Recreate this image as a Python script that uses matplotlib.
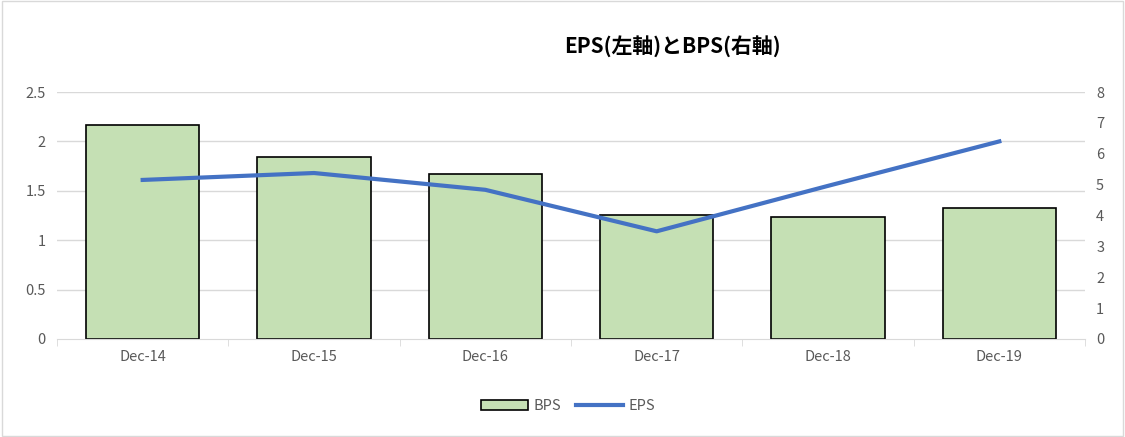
import matplotlib
matplotlib.use("Agg")
import matplotlib.pyplot as plt
from matplotlib.patches import Rectangle

categories = ["Dec-14", "Dec-15", "Dec-16", "Dec-17", "Dec-18", "Dec-19"]
bps = [6.93, 5.89, 5.34, 4.01, 3.95, 4.24]
eps = [1.61, 1.68, 1.51, 1.09, 1.55, 2.0]
left_ticks = [0, 0.5, 1, 1.5, 2, 2.5]
right_ticks = [0, 1, 2, 3, 4, 5, 6, 7, 8]

plt.rcParams["font.family"] = "Noto Sans CJK JP"
fig = plt.figure(figsize=(11.25, 4.37), dpi=100)
fig.patches.append(Rectangle((0.002, 0.003), 0.996, 0.994, transform=fig.transFigure,
                             fill=False, edgecolor="#d9d9d9", lw=1))
ax = fig.add_axes([57/1125, 1-339/437, (1085-57)/1125, (339-92)/437])
ax2 = ax.twinx()
x = range(len(categories))
ax2.bar(x, bps, width=0.66, color="#c5e0b4", edgecolor="black", lw=1.2, label="BPS", zorder=2)
ax.plot(x, eps, color="#4472c4", lw=3, label="EPS", zorder=5)
ax.set_zorder(ax2.get_zorder()+1); ax.patch.set_visible(False)
ax.set_ylim(0, 2.5); ax.set_yticks(left_ticks); ax.set_yticklabels([f"{t:g}" for t in left_ticks])
ax2.set_ylim(0, 8); ax2.set_yticks(right_ticks)
ax.set_xlim(-0.5, 5.5); ax.set_xticks(list(x)); ax.set_xticklabels(categories)
for a in (ax, ax2):
    for s in a.spines.values(): s.set_visible(False)
    a.tick_params(length=0, labelsize=10.5, colors="#595959", pad=8)
ax.spines["bottom"].set_visible(True); ax.spines["bottom"].set_color("#d9d9d9")
ax.set_xticks([i+0.5 for i in range(-1, 6)], minor=True)
ax.tick_params(axis="x", which="minor", length=5, color="#d9d9d9")
ax.tick_params(axis="x", which="major", length=0, pad=8)
for t in left_ticks[1:]:
    ax2.axhline(t*8/2.5, color="#d9d9d9", lw=1, zorder=0)
fig.text(0.598, 0.88, "EPS(左軸)とBPS(右軸)", ha="center", fontsize=15, fontweight="bold")
h1, l1 = ax2.get_legend_handles_labels(); h2, l2 = ax.get_legend_handles_labels()
fig.legend(h1+h2, l1+l2, loc="center", bbox_to_anchor=(0.505, 0.07), ncol=2, frameon=False,
           fontsize=10.5, labelcolor="#595959", handlelength=3.2, columnspacing=1.0,
           handletextpad=0.4)
fig.savefig("out.png", dpi=100)
